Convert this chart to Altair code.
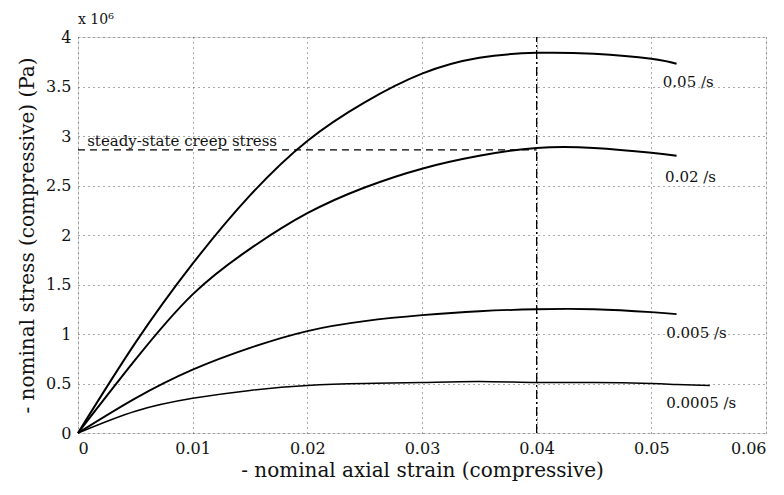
import altair as alt
import pandas as pd

# strain samples (compressive, nominal)
strain_a = [0, 0.005, 0.01, 0.015, 0.02, 0.025, 0.03, 0.035, 0.04, 0.045, 0.05, 0.0522]
strain_b = [0, 0.005, 0.01, 0.015, 0.02, 0.025, 0.03, 0.035, 0.04, 0.045, 0.05, 0.0522, 0.0551]

# stress in units of 1e6 Pa
stress_005 = [0, 0.91, 1.71, 2.40, 2.95, 3.34, 3.63, 3.79, 3.84, 3.83, 3.78, 3.73]
stress_002 = [0, 0.74, 1.40, 1.86, 2.22, 2.48, 2.67, 2.80, 2.88, 2.88, 2.83, 2.80]
stress_0005 = [0, 0.35, 0.64, 0.86, 1.03, 1.13, 1.19, 1.23, 1.25, 1.25, 1.22, 1.20]
stress_00005 = [0, 0.22, 0.35, 0.43, 0.48, 0.50, 0.51, 0.52, 0.51, 0.51, 0.50, 0.49, 0.48]

rate_labels = ["0.05 /s", "0.02 /s", "0.005 /s", "0.0005 /s"]
label_x = [0.0510, 0.0512, 0.0513, 0.0513]
label_y = [3.55, 2.59, 1.01, 0.30]

creep_stress = 2.86
peak_strain = 0.04

x_ticks = [0, 0.01, 0.02, 0.03, 0.04, 0.05, 0.06]
y_ticks = [0, 0.5, 1, 1.5, 2, 2.5, 3, 3.5, 4]

rows = []
for name, xs, ys, w in [
    ("0.05 /s", strain_a, stress_005, 2.0),
    ("0.02 /s", strain_a, stress_002, 2.0),
    ("0.005 /s", strain_a, stress_0005, 1.8),
    ("0.0005 /s", strain_b, stress_00005, 1.5),
]:
    for xv, yv in zip(xs, ys):
        rows.append({"series": name, "strain": xv, "stress": yv, "w": w})
df = pd.DataFrame(rows)

FONT = "DejaVu Serif"

xscale = alt.Scale(domain=[0, 0.06], nice=False, zero=False)
yscale = alt.Scale(domain=[0, 4], nice=False, zero=False)

xaxis = alt.Axis(values=x_ticks, labelExpr="format(datum.value, '~g')",
                 title="- nominal axial strain (compressive)",
                 grid=True, gridDash=[1, 4], gridColor="#555", gridWidth=1,
                 ticks=False, domain=False, labelPadding=7, titlePadding=4,
                 labelFont=FONT, titleFont=FONT, labelFontSize=16, titleFontSize=20,
                 titleFontWeight="normal", labelColor="#111", titleColor="#111")
yaxis = alt.Axis(values=y_ticks, labelExpr="format(datum.value, '~g')",
                 title="- nominal stress (compressive) (Pa)",
                 grid=True, gridDash=[1, 4], gridColor="#555", gridWidth=1,
                 ticks=False, domain=False, labelPadding=7, titlePadding=8,
                 labelFont=FONT, titleFont=FONT, labelFontSize=16, titleFontSize=20,
                 titleFontWeight="normal", labelColor="#111", titleColor="#111")

lines = alt.Chart(df).mark_line(color="black", interpolate="natural").encode(
    x=alt.X("strain:Q", scale=xscale, axis=xaxis),
    y=alt.Y("stress:Q", scale=yscale, axis=yaxis),
    detail="series:N",
    strokeWidth=alt.StrokeWidth("w:Q", scale=None),
)

hline_df = pd.DataFrame({"strain": [0, peak_strain], "stress": [creep_stress, creep_stress]})
hline = alt.Chart(hline_df).mark_line(color="black", strokeDash=[7, 5], strokeWidth=1.3).encode(
    x=alt.X("strain:Q", scale=xscale), y=alt.Y("stress:Q", scale=yscale))

vline_df = pd.DataFrame({"strain": [peak_strain, peak_strain], "stress": [0, 4]})
vline = alt.Chart(vline_df).mark_line(color="black", strokeDash=[9, 3, 2, 3], strokeWidth=1.3).encode(
    x=alt.X("strain:Q", scale=xscale), y=alt.Y("stress:Q", scale=yscale))

lab_df = pd.DataFrame({"t": rate_labels, "x": label_x, "y": label_y})
labels = alt.Chart(lab_df).mark_text(align="left", baseline="middle", font=FONT, fontSize=15, color="#111").encode(
    x=alt.X("x:Q", scale=xscale), y=alt.Y("y:Q", scale=yscale), text="t:N")

note_df = pd.DataFrame({"t": ["steady-state creep stress"], "x": [0.0008], "y": [2.95]})
note = alt.Chart(note_df).mark_text(align="left", baseline="middle", font=FONT, fontSize=15, color="#111").encode(
    x=alt.X("x:Q", scale=xscale), y=alt.Y("y:Q", scale=yscale), text="t:N")

mult_df = pd.DataFrame({"t": ["x 10⁶"], "x": [0.0], "y": [4.17]})
mult = alt.Chart(mult_df).mark_text(align="left", baseline="middle", font=FONT, fontSize=14, color="#111").encode(
    x=alt.X("x:Q", scale=xscale), y=alt.Y("y:Q", scale=yscale), text="t:N")

chart = alt.layer(lines, hline, vline, labels, note, mult).properties(
    width=688, height=396,
    autosize=alt.AutoSizeParams(type="none"),
    padding={"left": 70, "top": 29, "right": 8, "bottom": 50},
).configure_view(stroke="black", strokeWidth=1.5).configure(background="white")

chart.save("out.html", embed_options={"renderer": "svg", "actions": False})
